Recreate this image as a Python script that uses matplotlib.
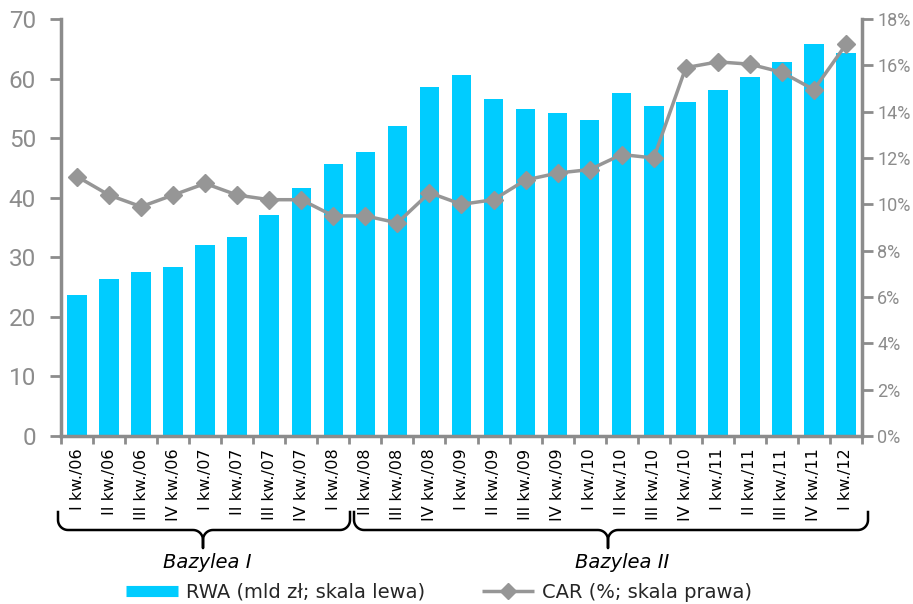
import matplotlib
matplotlib.use("Agg")
import matplotlib.pyplot as plt
import numpy as np
from matplotlib.lines import Line2D

plt.rcParams['font.family'] = ['DejaVu Sans']

quarters = ["I kw./06", "II kw./06", "III kw./06", "IV kw./06",
            "I kw./07", "II kw./07", "III kw./07", "IV kw./07",
            "I kw./08", "II kw./08", "III kw./08", "IV kw./08",
            "I kw./09", "II kw./09", "III kw./09", "IV kw./09",
            "I kw./10", "II kw./10", "III kw./10", "IV kw./10",
            "I kw./11", "II kw./11", "III kw./11", "IV kw./11",
            "I kw./12"]
rwa = [23.7, 26.3, 27.6, 28.4, 32.1, 33.4, 37.1, 41.6, 45.7, 47.7, 52.0, 58.6, 60.6,
       56.6, 54.9, 54.2, 53.0, 57.6, 55.4, 56.1, 58.1, 60.3, 62.8, 65.8, 64.3]
car = [11.2, 10.4, 9.9, 10.4, 10.9, 10.4, 10.2, 10.2, 9.5, 9.5, 9.2, 10.5, 10.0,
       10.2, 11.05, 11.35, 11.5, 12.15, 12.0, 15.9, 16.15, 16.05, 15.7, 14.95, 16.9]

W, H = 913, 604
GRAY = "#8c8c8c"
BLUE = "#00ccff"
LINE = "#969696"
TICKFONT = ['Roboto', 'DejaVu Sans']

fig = plt.figure(figsize=(W / 100, H / 100), dpi=100)
ax = fig.add_axes([61 / W, 1 - 436 / H, (862 - 61) / W, (436 - 19) / H])
ax2 = ax.twinx()

x = np.arange(len(quarters))
ax.bar(x, rwa, width=0.61, color=BLUE, zorder=2)
ax2.plot(x, [c / 100 for c in car], color=LINE, lw=2.5, marker="D", ms=9,
         mec=LINE, mfc=LINE, zorder=3)

ax.set_xlim(-0.5, len(quarters) - 0.5)
ax.set_ylim(0, 70)
ax.set_yticks(range(0, 71, 10))
ax.set_yticklabels([str(v) for v in range(0, 71, 10)], family=TICKFONT, fontsize=17.5)
ax2.set_ylim(0, 0.18)
pct = np.arange(0, 0.181, 0.02)
ax2.set_yticks(pct)
ax2.set_yticklabels([f"{int(round(v * 100))}%" for v in pct], family=TICKFONT, fontsize=13)

ax.set_xticks(x)
ax.set_xticklabels(quarters, rotation=90, fontsize=11.5, va="top")
ax.set_xticks(np.arange(-0.5, len(quarters), 1), minor=True)
ax.tick_params(axis="x", which="major", length=0, pad=9)
ax.tick_params(axis="x", which="minor", length=6, width=2, color=GRAY, direction="out")
ax.tick_params(axis="y", length=8, width=2, color=GRAY, labelcolor=GRAY, pad=10)
ax2.tick_params(axis="y", length=8, width=2, color=GRAY, labelcolor=GRAY, pad=3)

for a in (ax, ax2):
    for s in a.spines.values():
        s.set_visible(False)
ax.spines["left"].set_visible(True)
ax.spines["bottom"].set_visible(True)
ax2.spines["right"].set_visible(True)
for s in (ax.spines["left"], ax.spines["bottom"], ax2.spines["right"]):
    s.set_color(GRAY)
    s.set_linewidth(2.5)


def brace(x0, x1, xc, ytop, ymid, ytip, r=10):
    pts = []
    t = np.linspace(0, np.pi / 2, 12)
    pts.append((x0, ytop))
    pts += [(x0 + r - r * np.cos(a), ymid - r + r * np.sin(a)) for a in t]
    pts += [(xc - r + r * np.sin(a), ymid + r - r * np.cos(a)) for a in t]
    pts.append((xc, ytip))
    pts += [(xc + r - r * np.sin(a), ymid + r - r * np.cos(a)) for a in t[::-1]]
    pts += [(x1 - r + r * np.cos(a), ymid - r + r * np.sin(a)) for a in t[::-1]]
    pts.append((x1, ytop))
    px = [p[0] / W for p in pts]
    py = [1 - p[1] / H for p in pts]
    fig.add_artist(Line2D(px, py, color="black", lw=1.8, transform=fig.transFigure))


brace(58, 350, 203, 512, 530, 548)
brace(354, 868, 608, 512, 530, 548)
fig.text(207 / W, 1 - 562 / H, "Bazylea I", style="italic", fontsize=14,
         ha="center", va="center")
fig.text(622 / W, 1 - 563 / H, "Bazylea II", style="italic", fontsize=14,
         ha="center", va="center")

handles = [Line2D([], [], color=BLUE, lw=8, solid_capstyle="butt"),
           Line2D([], [], color=LINE, lw=2.5, marker="D", ms=8, solid_capstyle="butt")]
fig.legend(handles, ["RWA (mld zł; skala lewa)", "CAR (%; skala prawa)"],
           loc="center", bbox_to_anchor=(439 / W, 1 - 592 / H), ncol=2,
           frameon=False, fontsize=14, handlelength=2.7, columnspacing=2.9,
           handletextpad=0.4, labelcolor="#262626")

fig.savefig("out.png", dpi=100)
